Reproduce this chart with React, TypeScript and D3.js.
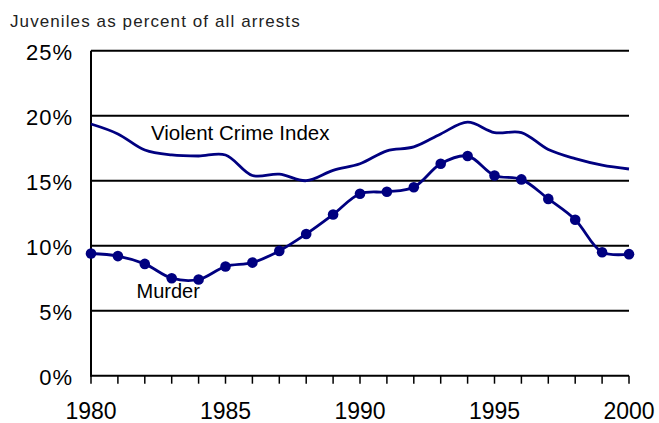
import React from "react";
import * as d3 from "d3";

const years = [1980,1981,1982,1983,1984,1985,1986,1987,1988,1989,1990,1991,1992,1993,1994,1995,1996,1997,1998,1999,2000];
const murder = [9.4,9.2,8.6,7.5,7.4,8.4,8.7,9.6,10.9,12.4,14.0,14.15,14.5,16.3,16.9,15.4,15.1,13.6,12.0,9.5,9.35];
const violent = [19.36,18.6,17.36,16.98,16.9,16.98,15.4,15.5,15.0,15.8,16.3,17.3,17.6,18.6,19.5,18.7,18.7,17.4,16.7,16.2,15.9];
const yTicks = [0,5,10,15,20,25];
const xTickLabels = [1980,1985,1990,1995,2000];

const W = 659, H = 423;
const left = 91, right = 629, top = 50.7, bottom = 375.7;
const navy = "#000080";

export default function App() {
  const x = d3.scaleLinear().domain([1980, 2000]).range([left, right]);
  const y = d3.scaleLinear().domain([0, 25]).range([bottom, top]);
  const line = d3.line<number>()
    .x((_, i) => x(years[i]))
    .y((d) => y(d))
    .curve(d3.curveCatmullRom.alpha(0.5));
  return (
    <svg width={W} height={H} style={{ position: "absolute", left: 0, top: 0, fontFamily: "Arial, 'Liberation Sans', sans-serif" }}>
      <rect width={W} height={H} fill="#fff" />
      <text x={10} y={26.5} fontSize={17} letterSpacing={1.1} fill="#222">Juveniles as percent of all arrests</text>
      {yTicks.map((t) => (
        <g key={t}>
          <line x1={left} x2={right} y1={y(t)} y2={y(t)} stroke="#000" strokeWidth={2} />
          <text x={73} y={y(t) + 8.8} fontSize={22} letterSpacing={1} textAnchor="end" fill="#000">{t}%</text>
        </g>
      ))}
      <line x1={left} x2={left} y1={top} y2={bottom + 1} stroke="#000" strokeWidth={2} />
      {years.map((yr) => (
        <line key={yr} x1={x(yr)} x2={x(yr)} y1={bottom} y2={bottom + 8} stroke="#000" strokeWidth={1.5} />
      ))}
      {xTickLabels.map((yr) => (
        <text key={yr} x={x(yr)} y={419} fontSize={23} textAnchor="middle" fill="#000">{yr}</text>
      ))}
      <path d={line(violent) ?? ""} fill="none" stroke={navy} strokeWidth={2.8} />
      <path d={line(murder) ?? ""} fill="none" stroke={navy} strokeWidth={2.8} />
      {murder.map((v, i) => (
        <circle key={i} cx={x(years[i])} cy={y(v)} r={5.3} fill={navy} />
      ))}
      <text x={151} y={140} fontSize={20.5} fill="#000">Violent Crime Index</text>
      <text x={136.5} y={298.3} fontSize={20} fill="#000">Murder</text>
    </svg>
  );
}
